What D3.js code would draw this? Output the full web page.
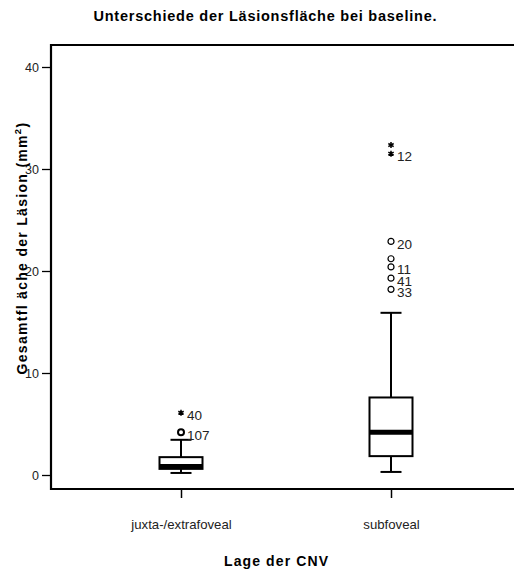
<!DOCTYPE html>
<html>
<head>
<meta charset="utf-8">
<style>
  body { margin: 0; background: #fff; }
  text { font-family: "Liberation Sans", Arial, sans-serif; }
</style>
</head>
<body>
<svg id="chart" width="514" height="572"></svg>
<script src="https://d3js.org/d3.v7.min.js"></script>
<script>
// box plot values
var categories = ["juxta-/extrafoveal", "subfoveal"];
var whiskerLow  = [0.2, 0.3];
var q1          = [0.6, 1.85];
var median      = [0.8, 4.2];
var q3          = [1.75, 7.6];
var whiskerHigh = [3.45, 15.9];

// outliers (o = circle, * = extreme)
var outlierCat   = [0, 0, 1, 1, 1, 1, 1, 1, 1];
var outlierValue = [6.1, 4.2, 32.35, 31.5, 22.9, 21.2, 20.4, 19.3, 18.2];
var outlierType  = ["*", "o", "*", "*", "o", "o", "o", "o", "o"];
var outlierLabel = ["40", "107", "", "12", "20", "", "11", "41", "33"];

var yTicks = [0, 10, 20, 30, 40];

var svg = d3.select("#chart");
var mLeft = 51, mTop = 45, mBottom = 489, mRight = 520;

var y = d3.scaleLinear().domain([0, 40]).range([475, 67]);
var x = d3.scalePoint().domain(categories).range([181, 391]);

// frame
svg.append("path")
    .attr("d", "M" + mRight + "," + mTop + "H" + mLeft + "V" + mBottom + "H" + mRight)
    .attr("fill", "none").attr("stroke", "#000").attr("stroke-width", 2.2);

var yAxis = svg.append("g")
    .attr("transform", "translate(" + mLeft + ",0)")
    .call(d3.axisLeft(y).tickValues(yTicks).tickSize(9).tickPadding(3));
yAxis.select(".domain").remove();
yAxis.selectAll(".tick line").attr("stroke-width", 1.3);
yAxis.selectAll("text").attr("font-size", 12.5).attr("fill", "#222")
    .style("font-family", "Liberation Sans, Arial, sans-serif");

var xAxis = svg.append("g")
    .attr("transform", "translate(0," + mBottom + ")")
    .call(d3.axisBottom(x).tickSize(9).tickPadding(22));
xAxis.select(".domain").remove();
xAxis.selectAll(".tick line").attr("stroke-width", 1.5);
xAxis.selectAll("text").attr("font-size", 13.2).attr("fill", "#222")
    .style("font-family", "Liberation Sans, Arial, sans-serif");

// boxes
var boxW = 43, capW = 21;
var boxes = svg.append("g").selectAll("g").data(categories).enter().append("g");

boxes.append("line")
    .attr("x1", function(d) { return x(d); }).attr("x2", function(d) { return x(d); })
    .attr("y1", function(d, i) { return y(whiskerLow[i]); })
    .attr("y2", function(d, i) { return y(whiskerHigh[i]); })
    .attr("stroke", "#000").attr("stroke-width", 2);

boxes.selectAll(".cap")
    .data(function(d, i) { return [whiskerLow[i], whiskerHigh[i]].map(function(v) { return {c: d, v: v}; }); })
    .enter().append("line")
    .attr("x1", function(d) { return x(d.c) - capW / 2; })
    .attr("x2", function(d) { return x(d.c) + capW / 2; })
    .attr("y1", function(d) { return y(d.v); })
    .attr("y2", function(d) { return y(d.v); })
    .attr("stroke", "#000").attr("stroke-width", 2);

boxes.append("rect")
    .attr("x", function(d) { return x(d) - boxW / 2; })
    .attr("width", boxW)
    .attr("y", function(d, i) { return y(q3[i]); })
    .attr("height", function(d, i) { return y(q1[i]) - y(q3[i]); })
    .attr("fill", "#fff").attr("stroke", "#000").attr("stroke-width", 2);

boxes.append("line")
    .attr("x1", function(d) { return x(d) - boxW / 2; })
    .attr("x2", function(d) { return x(d) + boxW / 2; })
    .attr("y1", function(d, i) { return Math.min(y(median[i]), y(q1[i]) - 2.5); })
    .attr("y2", function(d, i) { return Math.min(y(median[i]), y(q1[i]) - 2.5); })
    .attr("stroke", "#000").attr("stroke-width", 5);

// outliers
var outs = svg.append("g").selectAll("g").data(outlierValue).enter().append("g")
    .attr("transform", function(d, i) {
      return "translate(" + x(categories[outlierCat[i]]) + "," + y(d) + ")";
    });

outs.filter(function(d, i) { return outlierType[i] === "o"; })
    .append("circle").attr("r", 3)
    .attr("fill", "none").attr("stroke", "#000")
    .attr("stroke-width", function(d) { return outlierCat[outlierValue.indexOf(d)] === 0 ? 2 : 1.2; });

outs.filter(function(d, i) { return outlierType[i] === "*"; })
    .append("path")
    .attr("d", d3.symbol().type(d3.symbolAsterisk).size(26))
    .attr("fill", "none").attr("stroke", "#000").attr("stroke-width", 1.5);

outs.append("text")
    .attr("x", 6).attr("dy", "0.55em")
    .attr("font-size", 13.5).attr("fill", "#222")
    .text(function(d, i) { return outlierLabel[i]; });

// titles
svg.append("text")
    .attr("x", 265).attr("y", 21)
    .attr("text-anchor", "middle").attr("font-size", 14.5).attr("font-weight", "bold")
    .attr("textLength", 343).attr("lengthAdjust", "spacing")
    .text("Unterschiede der Läsionsfläche bei baseline.");

svg.append("text")
    .attr("x", 276).attr("y", 566)
    .attr("text-anchor", "middle").attr("font-size", 14).attr("font-weight", "bold")
    .attr("textLength", 104).attr("lengthAdjust", "spacing")
    .text("Lage der  CNV");

var yl = svg.append("text")
    .attr("transform", "translate(27,248) rotate(-90)")
    .attr("text-anchor", "middle").attr("font-size", 14).attr("font-weight", "bold")
    .attr("letter-spacing", 1.3);
yl.append("tspan").text("Gesamtfl äche der  Läsion  (mm");
yl.append("tspan").attr("dy", -6).attr("font-size", 9.5).text("2");
yl.append("tspan").attr("dy", 6).text(")");
</script>
</body>
</html>
